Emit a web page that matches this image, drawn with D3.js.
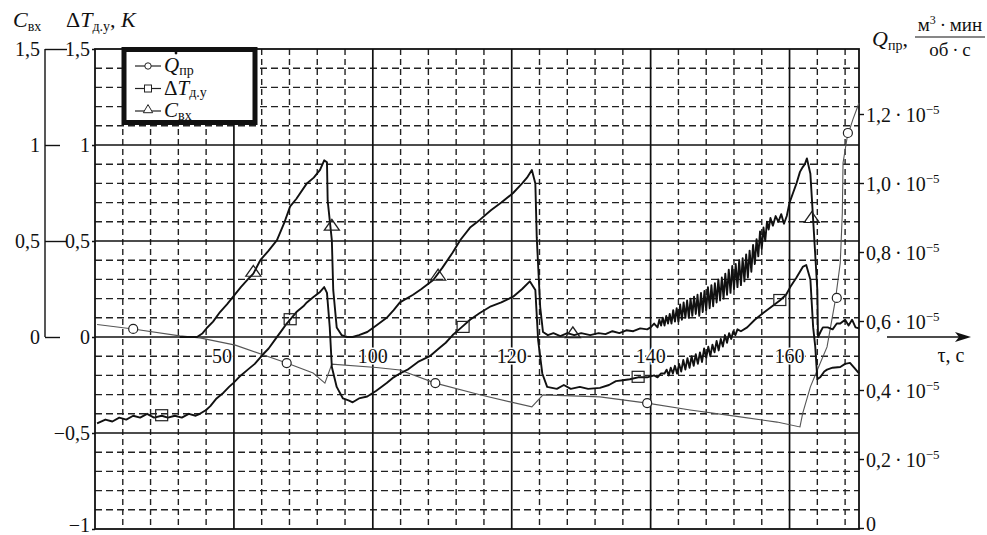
<!DOCTYPE html>
<html>
<head>
<meta charset="utf-8">
<script src="https://cdn.jsdelivr.net/npm/d3@7"></script>
<style>
  body { margin: 0; background: #fff; }
  svg { display: block; }
  svg text { font-family: "Liberation Serif", "DejaVu Serif", serif; }
</style>
</head>
<body>
<svg id="chart" width="987" height="535"></svg>
<script>
// tick values and labels (the first x label reads "50" in the original)
const xTickValues = [80, 100, 120, 140, 160];
const xTickLabels = ["50", "100", "120", "140", "160"];
const dtTicks = [1.5, 1, 0.5, 0, -0.5, -1];
const dtTickLabels = ["1,5", "1", "0,5", "0", "\u22120,5", "\u22121"];
const cTicks = [1.5, 1, 0.5, 0];
const cTickLabels = ["1,5", "1", "0,5", "0"];
const qTicks = [0, 0.2, 0.4, 0.6, 0.8, 1.0, 1.2];
const qTickLabels = ["0", "0,2", "0,4", "0,6", "0,8", "1,0", "1,2"];

// Q_пр, units of 1e-5 m3*min/(ob*s)
const qSeries = [
  [60.3, 0.59], [65.5, 0.577], [72.2, 0.557], [75.1, 0.551], [80.2, 0.53], [87.6, 0.478],
  [91.4, 0.449], [93.1, 0.42], [94.1, 0.475], [100.5, 0.465], [103.9, 0.458], [109.0, 0.42],
  [115.4, 0.386], [122.9, 0.351], [124.5, 0.386], [132.7, 0.38], [139.5, 0.362], [145.7, 0.342],
  [152.9, 0.322], [158.2, 0.307], [161.5, 0.293], [161.9, 0.333], [163.0, 0.409], [164.0, 0.458],
  [165.4, 0.525], [166.6, 0.661], [167.3, 0.768], [167.6, 0.913], [167.7, 1.058], [168.3, 1.133],
  [169.1, 1.183], [170.0, 1.232]
];
const qMarkers = [[65.5, 0.577], [87.6, 0.478], [109.0, 0.42], [139.5, 0.362], [166.8, 0.667], [168.4, 1.145]];

// ΔT_д.у, K
const dtSeries = [
  [60.3, -0.45], [61.5, -0.43], [62.5, -0.44], [63.5, -0.42], [64.5, -0.43], [65.5, -0.41],
  [66.5, -0.42], [67.5, -0.40], [68.5, -0.42], [69.6, -0.41], [70.5, -0.42], [71.5, -0.41],
  [72.5, -0.42], [73.5, -0.40], [74.5, -0.41], [75.1, -0.40], [76.0, -0.38], [76.6, -0.36],
  [77.5, -0.32], [78.5, -0.29], [79.3, -0.26], [79.9, -0.24], [81.0, -0.20], [82.0, -0.17],
  [83.0, -0.14], [84.2, -0.09], [85.0, -0.06], [86.0, -0.01], [87.0, 0.04], [87.6, 0.07],
  [88.1, 0.09], [89.0, 0.13], [90.0, 0.16], [90.5, 0.18], [91.5, 0.21], [92.4, 0.235],
  [93.0, 0.26], [93.4, 0.23], [93.8, 0.05], [94.1, -0.156], [94.8, -0.26], [95.7, -0.32],
  [96.5, -0.33], [97.1, -0.34], [98.0, -0.32], [99.2, -0.31], [100.5, -0.28], [102.0, -0.24],
  [103.0, -0.21], [103.9, -0.19], [105.0, -0.17], [106.5, -0.13], [108.2, -0.10], [109.5, -0.06],
  [110.5, -0.03], [111.5, 0.01], [112.6, 0.045], [114.0, 0.09], [115.4, 0.125], [117.0, 0.16],
  [118.5, 0.18], [120.2, 0.21], [121.5, 0.25], [122.6, 0.29], [123.4, 0.245], [123.8, -0.016],
  [124.4, -0.19], [125.1, -0.26], [126.5, -0.27], [127.5, -0.25], [128.5, -0.27], [129.8, -0.26],
  [131.0, -0.27], [132.7, -0.265], [134.0, -0.25], [135.0, -0.23], [136.0, -0.225], [137.0, -0.22],
  [138.2, -0.21], [139.5, -0.21], [140.5, -0.20], [141.0, -0.21], [141.5, -0.19], [142.0, -0.19],
  [142.3, -0.17], [142.6, -0.20], [142.9, -0.16], [143.2, -0.19], [143.5, -0.15], [143.8, -0.19],
  [144.1, -0.14], [144.4, -0.18], [144.7, -0.12], [145.0, -0.17], [145.3, -0.11], [145.6, -0.16],
  [145.9, -0.10], [146.2, -0.15], [146.5, -0.09], [146.8, -0.14], [147.1, -0.08], [147.4, -0.13],
  [147.7, -0.06], [148.0, -0.11], [148.3, -0.05], [148.6, -0.10], [148.9, -0.04], [149.2, -0.08],
  [149.5, -0.02], [149.8, -0.07], [150.1, -0.01], [150.4, -0.05], [150.7, 0.01], [151.0, -0.03],
  [151.3, 0.02], [151.6, -0.01], [151.9, 0.03], [152.2, 0.01], [152.5, 0.04], [153.0, 0.03],
  [153.9, 0.05], [155.0, 0.09], [156.2, 0.125], [157.5, 0.16], [158.6, 0.19], [159.5, 0.22],
  [160.1, 0.26], [161.0, 0.31], [161.9, 0.365], [162.4, 0.375], [163.0, 0.30], [163.4, 0.05],
  [163.7, -0.05], [164.0, -0.22], [164.4, -0.21], [165.0, -0.18], [165.4, -0.17], [166.2, -0.16],
  [167.3, -0.156], [168.0, -0.14], [168.7, -0.135], [169.3, -0.16], [170.0, -0.19]
];
const dtMarkers = [[69.6, -0.41], [88.1, 0.09], [113.0, 0.05], [138.2, -0.21], [158.6, 0.19]];

// C_вх
const cSeries = [
  [72.2, 0], [74.7, 0], [75.5, 0.02], [76.1, 0.047], [77.0, 0.08], [78.0, 0.13], [79.0, 0.17],
  [79.9, 0.21], [81.0, 0.26], [82.0, 0.30], [82.8, 0.33], [83.8, 0.40], [85.0, 0.45], [86.2, 0.505],
  [87.2, 0.59], [88.1, 0.68], [89.0, 0.72], [90.5, 0.80], [91.5, 0.83], [92.4, 0.87], [93.0, 0.92],
  [93.4, 0.91], [93.5, 0.71], [94.1, 0.505], [94.3, 0.245], [94.8, 0.05], [95.5, 0.01], [96.3, 0],
  [97.1, 0], [98.0, 0.01], [99.2, 0.026], [100.5, 0.06], [102.0, 0.10], [103.0, 0.14], [103.9, 0.18],
  [105.8, 0.22], [107.0, 0.25], [108.7, 0.297], [110.0, 0.36], [111.5, 0.44], [112.6, 0.505],
  [114.0, 0.57], [115.4, 0.61], [117.0, 0.66], [118.5, 0.70], [120.2, 0.75], [121.5, 0.80],
  [122.2, 0.83], [122.9, 0.87], [123.4, 0.80], [123.6, 0.52], [124.1, 0.156], [124.5, 0.026],
  [125.2, 0.01], [126.0, 0.02], [127.0, 0.005], [128.0, 0.02], [129.0, 0.01], [130.0, 0.02],
  [131.3, 0.01], [132.5, 0.02], [133.5, 0.015], [134.5, 0.03], [135.5, 0.02], [136.5, 0.035],
  [137.5, 0.03], [138.5, 0.045], [139.5, 0.04], [140.0, 0.05], [140.5, 0.07], [141.0, 0.05],
  [141.25, 0.09], [141.5, 0.06], [141.75, 0.10], [142.0, 0.06], [142.25, 0.11], [142.5, 0.07],
  [142.75, 0.12], [143.0, 0.07], [143.25, 0.14], [143.5, 0.08], [143.75, 0.15], [144.0, 0.08],
  [144.25, 0.17], [144.5, 0.09], [144.75, 0.18], [145.0, 0.10], [145.25, 0.19], [145.5, 0.10],
  [145.75, 0.20], [146.0, 0.11], [146.25, 0.21], [146.5, 0.12], [146.75, 0.22], [147.0, 0.11],
  [147.25, 0.23], [147.5, 0.13], [147.75, 0.24], [148.0, 0.14], [148.25, 0.26], [148.5, 0.15],
  [148.75, 0.27], [149.0, 0.16], [149.25, 0.28], [149.5, 0.18], [149.75, 0.30], [150.0, 0.19],
  [150.25, 0.31], [150.5, 0.20], [150.75, 0.33], [151.0, 0.22], [151.25, 0.35], [151.5, 0.23],
  [151.75, 0.37], [152.0, 0.25], [152.25, 0.38], [152.5, 0.26], [152.75, 0.40], [153.0, 0.27],
  [153.25, 0.41], [153.5, 0.29], [153.75, 0.43], [154.0, 0.31], [154.25, 0.45], [154.5, 0.34],
  [154.75, 0.48], [155.0, 0.38], [155.25, 0.51], [155.5, 0.42], [155.75, 0.55], [156.0, 0.46],
  [156.25, 0.57], [156.5, 0.50], [156.75, 0.60], [157.0, 0.56], [157.25, 0.62], [157.6, 0.58],
  [158.0, 0.63], [158.4, 0.60], [158.8, 0.64], [159.2, 0.59], [159.6, 0.63], [160.0, 0.70],
  [160.5, 0.75], [161.0, 0.80], [161.5, 0.86], [161.9, 0.885], [162.2, 0.90], [162.5, 0.93],
  [163.0, 0.85], [163.4, 0.61], [164.0, 0.245], [164.1, 0.0], [164.5, 0.03], [164.8, 0.05],
  [165.5, 0.05], [166.2, 0.04], [166.8, 0.07], [167.3, 0.07], [168.0, 0.09], [168.5, 0.06],
  [169.0, 0.09], [169.5, 0.05], [170.0, 0.045]
];
const cMarkers = [[82.8, 0.33], [94.1, 0.57], [109.4, 0.31], [128.8, 0.01], [163.2, 0.61]];

const svg = d3.select("#chart");
svg.append("rect").attr("width", 987).attr("height", 535).attr("fill", "#fff");

const x = d3.scaleLinear().domain([60, 170]).range([95, 859]);
const y = d3.scaleLinear().domain([-1, 1.5]).range([529, 49]);
const yQ = d3.scaleLinear().domain([0, 1.2]).range([528, 114]);

// grid: dashed minor lines every 4 s and every 0.1
const grid = svg.append("g");
const minorX = d3.range(64, 170, 4).filter(t => t % 20 !== 0);
const minorY = d3.range(-9, 15).map(k => k / 10).filter(v => Math.abs(v * 2 - Math.round(v * 2)) > 1e-6);
grid.selectAll("line.mx").data(minorX).enter().append("line")
  .attr("x1", d => x(d)).attr("x2", d => x(d)).attr("y1", y(1.5)).attr("y2", y(-1))
  .attr("stroke", "#222").attr("stroke-width", 1.4).attr("stroke-dasharray", "6,4");
grid.selectAll("line.my").data(minorY).enter().append("line")
  .attr("x1", x(60)).attr("x2", x(170)).attr("y1", d => y(d)).attr("y2", d => y(d))
  .attr("stroke", "#222").attr("stroke-width", 1.4).attr("stroke-dasharray", "7,4");
grid.selectAll("line.Mx").data(xTickValues).enter().append("line")
  .attr("x1", d => x(d)).attr("x2", d => x(d)).attr("y1", y(1.5)).attr("y2", y(-1))
  .attr("stroke", "#111").attr("stroke-width", 1.7);
grid.selectAll("line.My").data([1, 0.5, 0, -0.5]).enter().append("line")
  .attr("x1", x(60)).attr("x2", x(170)).attr("y1", d => y(d)).attr("y2", d => y(d))
  .attr("stroke", "#111").attr("stroke-width", 1.7);
grid.append("rect")
  .attr("x", x(60)).attr("y", y(1.5)).attr("width", x(170) - x(60)).attr("height", y(-1) - y(1.5))
  .attr("fill", "none").attr("stroke", "#111").attr("stroke-width", 1.8);

// series
const line = sc => d3.line().x(d => x(d[0])).y(d => sc(d[1]));
svg.append("path").datum(qSeries).attr("d", line(yQ))
  .attr("fill", "none").attr("stroke", "#555").attr("stroke-width", 1.1);
svg.append("path").datum(dtSeries).attr("d", line(y))
  .attr("fill", "none").attr("stroke", "#111").attr("stroke-width", 1.9).attr("stroke-linejoin", "round");
svg.append("path").datum(cSeries).attr("d", line(y))
  .attr("fill", "none").attr("stroke", "#111").attr("stroke-width", 1.9).attr("stroke-linejoin", "round");

// markers
const mk = svg.append("g").attr("fill", "none").attr("stroke", "#222").attr("stroke-width", 1.2);
mk.selectAll("circle").data(qMarkers).enter().append("circle")
  .attr("cx", d => x(d[0])).attr("cy", d => yQ(d[1])).attr("r", 4.5).attr("fill", "#fff");
mk.selectAll("rect").data(dtMarkers).enter().append("rect")
  .attr("x", d => x(d[0]) - 6).attr("y", d => y(d[1]) - 6).attr("width", 12).attr("height", 11);
const tri = d3.symbol().type(d3.symbolTriangle).size(75);
mk.selectAll("path").data(cMarkers).enter().append("path")
  .attr("d", tri).attr("transform", d => `translate(${x(d[0])},${y(d[1]) - 1}) scale(1.15,0.95)`);

// x tick labels sit on the -0.1 grid line
svg.append("g").selectAll("text").data(xTickValues).enter().append("text")
  .attr("x", (d, i) => x(d) - (i === 0 ? 12 : 0)).attr("y", y(-0.1) + 7)
  .attr("text-anchor", "middle").attr("font-size", 20).attr("fill", "#111")
  .attr("stroke", "#fff").attr("stroke-width", 3).attr("paint-order", "stroke")
  .text((d, i) => xTickLabels[i]);

// ΔT axis (left of plot)
const dtAxis = svg.append("g").attr("transform", `translate(${x(60)},0)`)
  .call(d3.axisLeft(y).tickValues(dtTicks).tickFormat((d, i) => dtTickLabels[i]).tickSize(3).tickPadding(2));
dtAxis.attr("font-family", null);
dtAxis.select(".domain").remove();
dtAxis.selectAll("text").attr("font-size", 20).attr("fill", "#111")
  .attr("dy", d => d === -1 ? "0.1em" : "0.32em");
dtAxis.selectAll("line").attr("stroke", "#111").attr("stroke-width", 1.5);

// C axis (0..1.5) further left, ticks pointing right
const cAxis = svg.append("g").attr("transform", "translate(45,0)")
  .call(d3.axisLeft(y).tickValues(cTicks).tickFormat((d, i) => cTickLabels[i]).tickSizeInner(-15).tickSizeOuter(0).tickPadding(5));
cAxis.attr("font-family", null);
cAxis.select(".domain").attr("d", `M0,${y(1.5)}V${y(0)}`).attr("stroke", "#111").attr("stroke-width", 1.4);
cAxis.selectAll(".tick line").attr("stroke", "#111").attr("stroke-width", 1.4)
  .attr("x2", d => (d === 1.5 || d === 0.5) ? 22 : 15);
cAxis.selectAll("text").attr("font-size", 20).attr("fill", "#111");

// Q axis (right)
const qAxis = svg.append("g").attr("transform", `translate(${x(170)},0)`)
  .call(d3.axisRight(yQ).tickValues(qTicks).tickFormat("").tickSize(5));
qAxis.attr("font-family", null);
qAxis.select(".domain").remove();
qAxis.selectAll("line").attr("stroke", "#111").attr("stroke-width", 1.4);
qAxis.selectAll(".tick").each(function (d, i) {
  const t = d3.select(this).append("text").attr("x", 7).attr("dy", d === 0 ? "0.1em" : "0.35em")
    .attr("font-size", 20).attr("fill", "#111").attr("text-anchor", "start");
  if (d === 0) { t.text(qTickLabels[i]); return; }
  t.append("tspan").text(qTickLabels[i] + "\u2009\u00b7\u200910");
  t.append("tspan").attr("font-size", 13).attr("dy", "-0.6em").text("\u22125");
});

// axis titles
const title = svg.append("g").attr("fill", "#111");
const tC = title.append("text").attr("x", 13).attr("y", 27).attr("font-size", 22);
tC.append("tspan").attr("font-style", "italic").text("C");
tC.append("tspan").attr("font-size", 14).attr("dy", 4).text("вх");
const tT = title.append("text").attr("x", 66).attr("y", 27).attr("font-size", 22);
tT.append("tspan").text("Δ");
tT.append("tspan").attr("font-style", "italic").text("T");
tT.append("tspan").attr("font-size", 14).attr("dy", 4).text("д.у");
tT.append("tspan").attr("dy", -4).text(", ");
tT.append("tspan").attr("font-style", "italic").text("K");

const tQ = title.append("text").attr("x", 872).attr("y", 46).attr("font-size", 22);
tQ.append("tspan").attr("font-style", "italic").text("Q");
tQ.append("tspan").attr("font-size", 14).attr("dy", 4).text("пр");
tQ.append("tspan").attr("dy", -4).text(",");
const num = title.append("text").attr("x", 950).attr("y", 31).attr("font-size", 19).attr("text-anchor", "middle");
num.append("tspan").text("м");
num.append("tspan").attr("font-size", 12).attr("dy", -7).text("3");
num.append("tspan").attr("dy", 7).text("\u2009·\u2009мин");
title.append("line").attr("x1", 915).attr("x2", 985).attr("y1", 37).attr("y2", 37)
  .attr("stroke", "#111").attr("stroke-width", 1.2);
title.append("text").attr("x", 950).attr("y", 56).attr("font-size", 19).attr("text-anchor", "middle").text("об\u2009·\u2009с");

// time arrow
title.append("line").attr("x1", 887).attr("x2", 962).attr("y1", y(0)).attr("y2", y(0))
  .attr("stroke", "#111").attr("stroke-width", 1.5);
title.append("path").attr("d", `M971,${y(0)}L955,${y(0) - 5}L959,${y(0)}L955,${y(0) + 5}Z`).attr("fill", "#111");
title.append("text").attr("x", 951).attr("y", y(0) + 25).attr("font-size", 20).attr("text-anchor", "middle").text("τ, с");

// legend
const lg = svg.append("g");
lg.append("rect").attr("x", 124).attr("y", 49.5).attr("width", 131).attr("height", 73)
  .attr("fill", "#fff").attr("stroke", "#111").attr("stroke-width", 5);
const legendItems = [
  { name: "Q", sub: "пр", mark: "circle", dot: true },
  { name: "ΔT", sub: "д.у", mark: "square" },
  { name: "C", sub: "вх", mark: "triangle" }
];
legendItems.forEach((it, i) => {
  const ly = 66 + i * 22.5;
  lg.append("line").attr("x1", 135).attr("x2", 161).attr("y1", ly).attr("y2", ly)
    .attr("stroke", "#222").attr("stroke-width", 1.2);
  if (it.mark === "circle") {
    lg.append("circle").attr("cx", 148).attr("cy", ly).attr("r", 3.2).attr("fill", "#fff").attr("stroke", "#222");
  } else if (it.mark === "square") {
    lg.append("rect").attr("x", 144.5).attr("y", ly - 3.5).attr("width", 7).attr("height", 7).attr("fill", "#fff").attr("stroke", "#222");
  } else {
    lg.append("path").attr("d", d3.symbol().type(d3.symbolTriangle).size(38)).attr("transform", `translate(148,${ly - 1})`)
      .attr("fill", "#fff").attr("stroke", "#222");
  }
  const t = lg.append("text").attr("x", 164).attr("y", ly + 6).attr("font-size", 21).attr("fill", "#111");
  if (it.name === "ΔT") {
    t.append("tspan").text("Δ");
    t.append("tspan").attr("font-style", "italic").text("T");
  } else {
    t.append("tspan").attr("font-style", "italic").text(it.name);
  }
  t.append("tspan").attr("font-size", 14).attr("dy", 2.5).text(it.sub);
  if (it.dot) lg.append("circle").attr("cx", 176).attr("cy", ly - 13).attr("r", 1.4).attr("fill", "#111");
});
</script>
</body>
</html>
